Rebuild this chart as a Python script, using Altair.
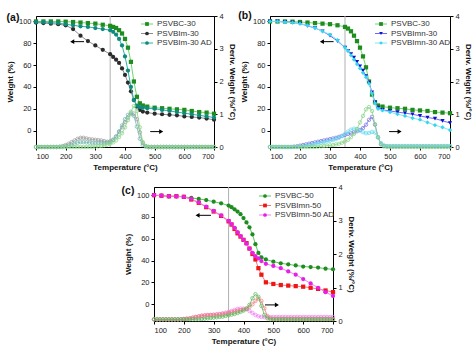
import altair as alt
import pandas as pd

FONT = "Liberation Sans"

# ---------------- shared temperature grids ----------------
T_TG = [100, 125, 150, 175, 200, 225, 250, 275, 300, 325, 350, 360, 370, 380, 390, 400,
        410, 420, 430, 440, 450, 460, 475, 500, 525, 550, 575, 600, 625, 650, 675, 700]
T_DTG = [100, 110, 120, 130, 140, 150, 160, 170, 180, 190, 200, 210, 220, 230, 240, 250,
         260, 270, 280, 290, 300, 310, 320, 330, 340, 350, 360, 370, 380, 390, 400, 410,
         420, 430, 440, 450, 460, 470, 480, 490, 500, 510, 520, 530, 540, 550, 560, 570,
         580, 590, 600, 610, 620, 630, 640, 650, 660, 670, 680, 690, 700]
X_TICKS = [100, 200, 300, 400, 500, 600, 700]
W_TICKS = [0, 20, 40, 60, 80, 100]
D_TICKS = [0, 1, 2, 3, 4]

# ---------------- panel (a) ----------------
A_NAMES = ["PSVBC-30", "PSVBIm-30", "PSVBIm-30 AD"]
A_W_BC = [100, 100, 100, 100, 99.8, 99.5, 99, 98.5, 98, 97, 96, 95, 94, 92, 89, 84,
          76, 63, 45, 31, 25, 23, 22, 21, 20.5, 20, 19.5, 19, 18, 17, 16.5, 15.5]
A_W_IM = [99, 98.5, 98, 97.5, 96.5, 93, 87, 82, 78, 74, 70, 67.5, 65, 62, 57, 51,
          44, 36, 28, 22, 19, 17.5, 16.5, 15.5, 15, 14.5, 14, 13, 12.5, 12, 11, 10]
A_W_AD = [99.5, 99.5, 99, 98.5, 97.5, 96.5, 95.5, 95, 94, 93, 92, 90.5, 88, 84, 78, 68,
          55, 40, 28, 23, 21.5, 21, 20.5, 20, 19, 18, 17, 16, 15, 14, 13, 12]
A_D_BC = [0] * 20 + [0.01, 0.02, 0.03, 0.05, 0.07, 0.1, 0.14, 0.2, 0.3, 0.42, 0.6, 0.82,
                     1.08, 1.25, 1.1, 0.6, 0.15, 0.03] + [0] * 23
A_D_IM = [0, 0, 0, 0, 0, 0, 0, 0, 0.01, 0.03, 0.06, 0.1, 0.15, 0.2, 0.25, 0.28, 0.28,
          0.26, 0.24, 0.23, 0.22, 0.21, 0.2, 0.18, 0.16, 0.17, 0.22, 0.32, 0.45, 0.6,
          0.76, 0.9, 1.0, 1.02, 0.85, 0.45, 0.12, 0.03] + [0] * 23
A_D_AD = [0] * 10 + [0.02, 0.04, 0.07, 0.1, 0.13, 0.15, 0.15, 0.14, 0.13, 0.12, 0.12,
                     0.12, 0.12, 0.12, 0.13, 0.16, 0.22, 0.32, 0.48, 0.66, 0.85, 0.98,
                     1.04, 0.95, 0.62, 0.25, 0.06, 0.01] + [0] * 23

# ---------------- panel (b) ----------------
B_NAMES = ["PSVBC-30", "PSVBImn-30", "PSVBImn-30 AD"]
B_W_BC = [100, 100, 100, 99.8, 99.5, 99, 98.5, 98, 97.5, 96.5, 95, 93.5, 91, 87, 82, 76,
          68, 58, 45, 33, 26, 23, 22, 21, 20.5, 20, 19, 18.5, 18, 17, 16.5, 16]
B_W_MN = [100, 100, 99.5, 99, 98, 96, 94, 91, 87, 82, 76, 73, 70, 67, 63, 59,
          55, 50, 44, 35, 26, 21, 19, 18, 17, 16, 15, 13.5, 12, 11, 9, 7]
B_W_AD = [100, 100, 99.5, 99, 98, 96.5, 94, 91, 88, 83, 76, 73, 69, 65, 61, 57,
          53, 49, 43, 34, 25, 20, 18.5, 17, 15, 13.5, 11.5, 10, 7.5, 5, 3, 0.5]
B_D_BC = [0] * 16 + [0.01, 0.02, 0.03, 0.04, 0.05, 0.06, 0.08, 0.1, 0.13, 0.17, 0.22,
                     0.3, 0.4, 0.55, 0.75, 0.95, 1.15, 1.22, 1.1, 0.7, 0.3, 0.08,
                     0.02] + [0] * 22
B_D_MN = [0] * 8 + [0.01, 0.02, 0.04, 0.06, 0.08, 0.1, 0.12, 0.14, 0.16, 0.18, 0.2,
                    0.22, 0.24, 0.26, 0.28, 0.31, 0.34, 0.37, 0.4, 0.42, 0.45, 0.48,
                    0.52, 0.58, 0.68, 0.83, 0.92, 0.68, 0.3, 0.09, 0.03] + [0.02] * 22
B_D_AD = [0] * 10 + [0.01, 0.02, 0.03, 0.05, 0.07, 0.09, 0.11, 0.13, 0.15, 0.17, 0.19,
                     0.21, 0.24, 0.28, 0.33, 0.4, 0.47, 0.53, 0.56, 0.55, 0.5, 0.45,
                     0.42, 0.43, 0.46, 0.44, 0.3, 0.12, 0.05] + [0.03] * 22

# ---------------- panel (c) ----------------
C_NAMES = ["PSVBC-50", "PSVBImn-50", "PSVBImn-50 AD"]
C_W_BC = [100, 99.5, 99, 99, 98.5, 97.5, 96.5, 95.5, 94, 92.5, 90.5, 89, 87, 85, 82.5, 79,
          75, 70.5, 64, 55, 47, 43, 41, 39, 37.5, 36.5, 35.5, 34.5, 34, 33.5, 32.5, 32]
C_W_MN = [100, 99.5, 99, 99, 98.5, 96, 93, 89, 85, 81, 76, 73, 69, 65, 62, 59,
          56, 51, 46, 41, 33, 27, 20, 18.5, 17.5, 17, 16.5, 16, 15, 14, 12.5, 11]
C_W_AD = [100, 99.5, 99, 99, 98.5, 96.5, 93.5, 89.5, 85.5, 81.5, 76.5, 73.5, 70, 66, 62.5, 59,
          55.5, 51, 47, 44, 42, 39.5, 37, 35, 33, 30, 27, 23, 19, 15, 11, 7.5]
C_D_BC = [0.05] * 15 + [0.05, 0.06, 0.07, 0.08, 0.09, 0.1, 0.11, 0.12, 0.13, 0.15, 0.17,
                        0.19, 0.21, 0.24, 0.27, 0.31, 0.37, 0.48, 0.68, 0.8, 0.72, 0.45,
                        0.18, 0.08] + [0.05] * 22
C_D_MN = [0.05] * 10 + [0.06, 0.07, 0.08, 0.1, 0.12, 0.14, 0.16, 0.17, 0.18, 0.18, 0.18,
                        0.19, 0.2, 0.21, 0.22, 0.24, 0.26, 0.28, 0.3, 0.32, 0.34, 0.37,
                        0.42, 0.5, 0.6, 0.67, 0.6, 0.38, 0.15, 0.08] + [0.06] * 21
C_D_AD = [0.05] * 10 + [0.06, 0.07, 0.08, 0.1, 0.12, 0.13, 0.15, 0.16, 0.17, 0.18, 0.19,
                        0.2, 0.21, 0.23, 0.25, 0.27, 0.3, 0.33, 0.36, 0.37, 0.37, 0.35,
                        0.3, 0.24, 0.18, 0.14, 0.12, 0.11, 0.11, 0.12] + [0.12] * 21

# arrows: [left end T, right end T, level]
A_ARROW_L = [222, 262, 81.5]
A_ARROW_R = [485, 522, 0.47]
B_ARROW_L = [273, 312, 81.5]
B_ARROW_R = [497, 532, 0.47]
C_ARROW_L = [246, 291, 81.5]
C_ARROW_R = [472, 512, 0.48]


def x_enc():
    return alt.X("T:Q", scale=alt.Scale(domain=[100, 700], nice=False),
                 axis=alt.Axis(values=X_TICKS, title="Temperature (°C)"))


def yw_enc(dom):
    return alt.Y("W:Q", scale=alt.Scale(domain=dom, nice=False, zero=False),
                 axis=alt.Axis(values=W_TICKS, title="Weight (%)", orient="left"))


def yd_enc():
    return alt.Y("D:Q", scale=alt.Scale(domain=[0, 4], nice=False, zero=False),
                 axis=alt.Axis(values=D_TICKS, title="Deriv. Weight (%/°C)", orient="right"))


def tg(W, dom, mcol, lcol, shape):
    df = pd.DataFrame({"T": T_TG, "W": W})
    base = alt.Chart(df).encode(x=x_enc(), y=yw_enc(dom))
    return [base.mark_line(color=lcol, strokeWidth=1),
            base.mark_point(filled=True, color=mcol, shape=shape, size=18, opacity=1)]


def dtg(D, col):
    df = pd.DataFrame({"T": T_DTG, "D": D})
    base = alt.Chart(df).encode(x=x_enc(), y=yd_enc())
    return [base.mark_line(color=col, strokeWidth=0.8),
            base.mark_point(filled=False, color=col, shape="circle", size=12,
                            strokeWidth=0.8, opacity=0.9)]


def arrow(spec, field, enc_y, direction):
    left, right, lvl = spec
    tip = left if direction == "left" else right
    shaft_df = pd.DataFrame({"T": [left], "T2": [right], field: [lvl]})
    head_df = pd.DataFrame({"T": [tip], field: [lvl]})
    shaft = alt.Chart(shaft_df).mark_rule(color="black", strokeWidth=1).encode(
        x=x_enc(), x2="T2:Q", y=enc_y)
    head = alt.Chart(head_df).mark_point(
        filled=True, color="black", opacity=1, size=22,
        shape="triangle-left" if direction == "left" else "triangle-right"
    ).encode(x=x_enc(), y=enc_y)
    return [shaft, head]


def legend(names, mcols, lcols, shapes, y0, step):
    layers = []
    for i, (n, mc, lc, sh) in enumerate(zip(names, mcols, lcols, shapes)):
        df = pd.DataFrame({"name": [n]})
        y = y0 + i * step
        b = alt.Chart(df)
        layers.append(b.mark_rule(color=lc, strokeWidth=1).encode(
            x=alt.value(105), x2=alt.value(117), y=alt.value(y)))
        layers.append(b.mark_point(filled=True, color=mc, shape=sh, size=14, opacity=1).encode(
            x=alt.value(111), y=alt.value(y)))
        layers.append(b.mark_text(align="left", baseline="middle", font=FONT, fontSize=8,
                                  color="#333").encode(
            x=alt.value(121), y=alt.value(y), text="name:N"))
    return layers


def panel(label, lab_dx, lab_dy, dom, tg_specs, dtg_specs, names, arrL, arrR,
          leg_y0, width, height):
    wl = []
    wl.append(alt.Chart(pd.DataFrame({"T": [350]})).mark_rule(
        color="#b0b0b0", strokeWidth=1).encode(x=x_enc()))
    for W, mc, lc, sh in tg_specs:
        wl += tg(W, dom, mc, lc, sh)
    wl += arrow(arrL, "W", yw_enc(dom), "left")
    wl += legend(names, [s[1] for s in tg_specs], [s[2] for s in tg_specs],
                 [s[3] for s in tg_specs], leg_y0, 9.5)
    wl.append(alt.Chart(pd.DataFrame({"lab": [label]})).mark_text(
        font=FONT, fontSize=10.5, fontWeight="bold", align="center", baseline="middle",
        color="#111").encode(x=alt.value(lab_dx), y=alt.value(lab_dy), text="lab:N"))
    dl = []
    for D, col in dtg_specs:
        dl += dtg(D, col)
    dl += arrow(arrR, "D", yd_enc(), "right")
    return alt.layer(alt.layer(*wl), alt.layer(*dl)).resolve_scale(
        y="independent").properties(width=width, height=height)


pa = panel("(a)", -23, 2, [-15, 105],
           [(A_W_BC, "#1e8c1e", "#6fd46f", "square"),
            (A_W_IM, "#2b2b2b", "#8c8c8c", "circle"),
            (A_W_AD, "#0e8a7e", "#2ab3a3", "circle")],
           [(A_D_IM, "#9a9a9a"), (A_D_AD, "#74b8b0"), (A_D_BC, "#86d686")],
           A_NAMES, A_ARROW_L, A_ARROW_R, 8, 178, 131)

pb = panel("(b)", -25, 0, [-15, 105],
           [(B_W_BC, "#1e8c1e", "#6fd46f", "square"),
            (B_W_MN, "#1010c8", "#6a6aff", "triangle-down"),
            (B_W_AD, "#33d6ee", "#7fe6f5", "diamond")],
           [(B_D_MN, "#7a72e6"), (B_D_AD, "#66dcee"), (B_D_BC, "#86d686")],
           B_NAMES, B_ARROW_L, B_ARROW_R, 8, 180, 131)

pc = panel("(c)", -26, 4, [-15.5, 107.5],
           [(C_W_BC, "#1e8c1e", "#5cc85c", "circle"),
            (C_W_MN, "#ee1515", "#f57a7a", "square"),
            (C_W_AD, "#e81ee8", "#f27ff2", "circle")],
           [(C_D_AD, "#f080f0"), (C_D_MN, "#f07a7a"), (C_D_BC, "#5cb85c")],
           C_NAMES, C_ARROW_L, C_ARROW_R, 9, 179, 134)

spacer = alt.Chart(pd.DataFrame({"v": [0]})).mark_point(opacity=0).encode(
    x=alt.X("v:Q", axis=None), y=alt.Y("v:Q", axis=None)).properties(
    width=100, height=10, view=alt.ViewBackground(stroke="transparent"))

top = alt.hconcat(pa, pb, spacing=56, bounds="flush")
bottom = alt.hconcat(spacer, pc, spacing=18, bounds="flush")

chart = alt.vconcat(top, bottom, spacing=10).properties(
    padding={"left": 5, "top": 10, "right": 2, "bottom": 2},
    background="white",
).configure_view(stroke="black", strokeWidth=1).configure_axis(
    grid=False, labelFont=FONT, labelFontSize=7.5, labelColor="#222",
    titleFont=FONT, titleFontSize=8, titleFontWeight="bold", titleColor="#111",
    domainColor="black", tickColor="black", tickSize=3, labelPadding=2,
    titlePadding=4,
)

chart.save("out.html", embed_options={"renderer": "svg", "actions": False})
